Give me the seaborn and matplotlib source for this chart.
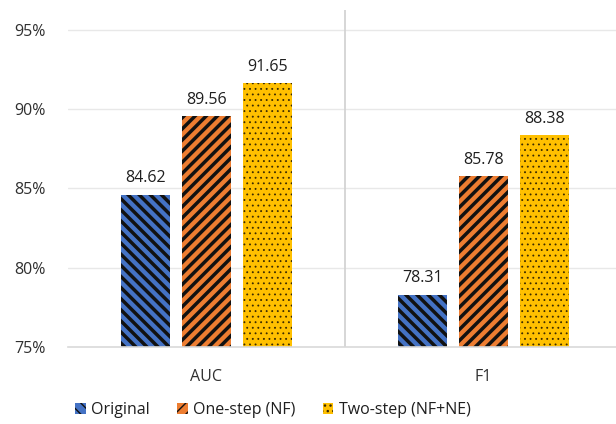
import matplotlib
matplotlib.use("Agg")
import matplotlib.pyplot as plt
import seaborn as sns
import pandas as pd
from matplotlib.patches import Patch

metrics = ["AUC", "F1"]
methods = ["Original", "One-step (NF)", "Two-step (NF+NE)"]
original = [84.62, 78.31]
one_step = [89.56, 85.78]
two_step = [91.65, 88.38]
yticks = [75, 80, 85, 90, 95]
ytick_labels = ["75%", "80%", "85%", "90%", "95%"]

colors = ["#4472C4", "#ED7D31", "#FFC000"]
hatches = ["\\\\\\", "///", "..."]
hatch_lw = [2.5, 2.5, 0.6]
hatch_col = ["#111111", "#111111", "#3a2a00"]

rows = []
for m, vals in zip(methods, [original, one_step, two_step]):
    for c, v in zip(metrics, vals):
        rows.append({"metric": c, "method": m, "value": v})
df = pd.DataFrame(rows)

sns.set_style("white")
plt.rcParams["font.family"] = ["Open Sans", "DejaVu Sans"]


def style_patch(p, h, lw, hc):
    p.set_hatch(h)
    p.set_edgecolor(hc)
    p.set_linewidth(0)
    if hasattr(p, "set_hatch_linewidth"):
        p.set_hatch_linewidth(lw)
    else:
        p._hatch_linewidth = lw


fig = plt.figure(figsize=(6.16, 4.24), dpi=100)
ax = fig.add_axes([68/616, 1-347/424, 554/616, 337/424])

sns.barplot(data=df, x="metric", y="value", hue="method", order=metrics,
            hue_order=methods, palette=colors, width=0.66, gap=0.195,
            ax=ax, legend=False, saturation=1)

for cont, h, lw, hc in zip(ax.containers, hatches, hatch_lw, hatch_col):
    for bar in cont:
        style_patch(bar, h, lw, hc)
    ax.bar_label(cont, labels=[f"{v:.2f}" for v in cont.datavalues], padding=6,
                 fontsize=11.5, color="#1f1f1f")

ax.set_ylim(75, 96.26)
ax.set_xlim(-0.5, 1.5)
ax.set_yticks(yticks)
ax.set_yticklabels(ytick_labels)
ax.set_xlabel("")
ax.set_ylabel("")
ax.tick_params(axis="y", length=0, pad=16, labelsize=11.5, labelcolor="#303030")
ax.tick_params(axis="x", length=0, pad=16, labelsize=11.5, labelcolor="#303030")
for y in yticks[1:]:
    ax.axhline(y, color="#E8E8E8", lw=1, zorder=0)
ax.axvline(0.5, color="#D0D0D0", lw=1.2, zorder=0)
for s in ["top", "right", "left"]:
    ax.spines[s].set_visible(False)
ax.spines["bottom"].set_color("#D9D9D9")
ax.spines["bottom"].set_linewidth(1.2)

handles = []
for c, h, lw, hc in zip(colors, hatches, hatch_lw, hatch_col):
    p = Patch(facecolor=c)
    style_patch(p, h, lw, hc)
    handles.append(p)
fig.legend(handles, methods, loc="center", bbox_to_anchor=(0.443, 1-410/424), ncol=3,
           frameon=False, fontsize=11.5, handlelength=0.65, handleheight=0.65,
           handletextpad=0.35, columnspacing=1.7, labelcolor="#1f1f1f")

fig.savefig("out.png", dpi=100)
